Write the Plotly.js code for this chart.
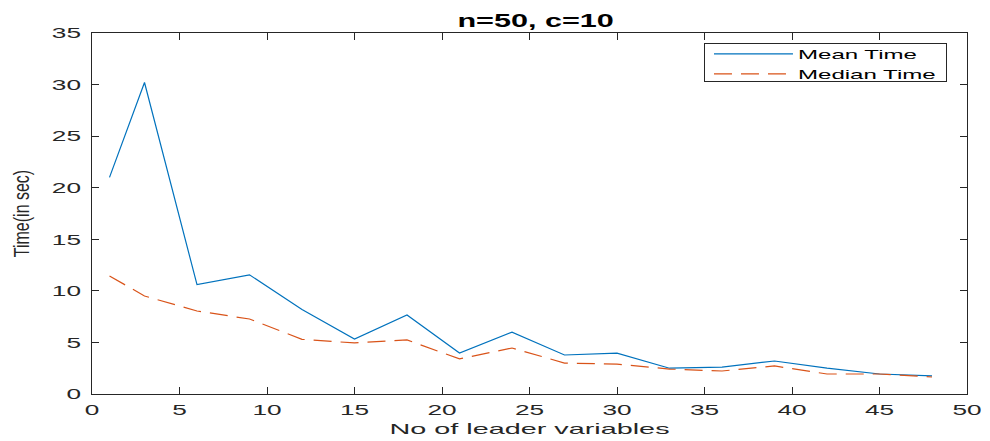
<!DOCTYPE html>
<html>
<head>
<meta charset="utf-8">
<script src="https://cdn.plot.ly/plotly-3.0.1.min.js"></script>
<style>html,body{margin:0;padding:0;background:#fff;}#chart{width:990px;height:441px;}</style>
</head>
<body>
<div id="chart"></div>
<script>
const leaderVars = [1, 3, 6, 9, 12, 15, 18, 21, 24, 27, 30, 33, 36, 39, 42, 45, 48];
const meanTime = [21.0, 30.2, 10.6, 11.55, 8.2, 5.33, 7.66, 3.97, 6.0, 3.78, 3.97, 2.5, 2.6, 3.2, 2.5, 1.94, 1.75];
const medianTime = [11.45, 9.5, 8.05, 7.27, 5.3, 4.95, 5.24, 3.4, 4.46, 3.0, 2.9, 2.42, 2.23, 2.72, 1.94, 1.94, 1.65];
const xTicks = [0, 5, 10, 15, 20, 25, 30, 35, 40, 45, 50];
const yTicks = [0, 5, 10, 15, 20, 25, 30, 35];
const seriesNames = ['Mean Time', 'Median Time'];

const font = 'Liberation Sans, Arial, sans-serif';
const STRETCH = 1.75;
// invisible trailing padding so the legend box is sized for the stretched text (removed after layout)
const PAD = '\u00A0'.repeat(20);
const traces = [
  {x: leaderVars, y: meanTime, name: seriesNames[0] + PAD, type: 'scatter', mode: 'lines',
   line: {color: '#0072BD', width: 1.2}},
  {x: leaderVars, y: medianTime, name: seriesNames[1] + PAD, type: 'scatter', mode: 'lines',
   line: {color: '#D95319', width: 1.2, dash: '18px,9px'}}
];
const axisCommon = {
  showgrid: false, zeroline: false, showline: true, linecolor: '#262626', linewidth: 1,
  mirror: 'ticks', ticks: 'inside', ticklen: 7, tickcolor: '#262626',
  tickfont: {family: font, size: 15, color: '#262626'}
};
const layout = {
  width: 990, height: 441,
  margin: {l: 92, r: 23, t: 33, b: 47},
  paper_bgcolor: '#fff', plot_bgcolor: '#fff',
  title: {text: '<b>n=50, c=10</b>', font: {family: font, size: 18, color: '#000'},
    xref: 'paper', x: 0.507, xanchor: 'center', yref: 'paper', y: 1, yanchor: 'bottom', pad: {b: 6}},
  xaxis: Object.assign({}, axisCommon, {range: [0, 50], tickvals: xTicks, ticktext: xTicks.map(String),
    ticklabelstandoff: 2,
    title: {text: 'No of leader variables', font: {family: font, size: 15, color: '#262626'}, standoff: 6}}),
  yaxis: Object.assign({}, axisCommon, {range: [0, 35], tickvals: yTicks, ticktext: yTicks.map(String),
    ticklabelstandoff: 7,
    title: {text: 'Time(in sec)', font: {family: font, size: 16, color: '#262626'}, standoff: 32}}),
  showlegend: true,
  legend: {x: 0.6994, xanchor: 'left', y: 0.9723, yanchor: 'top', bgcolor: '#fff',
    bordercolor: '#262626', borderwidth: 1, font: {family: font, size: 13, color: '#000'},
    tracegroupgap: 0, itemwidth: 79}
};

function stretchText(el, mode, s) {
  const bb = el.getBBox();
  let cx;
  if (mode === 'left') cx = bb.x;
  else if (mode === 'right') cx = bb.x + bb.width;
  else cx = bb.x + bb.width / 2;
  const prev = el.getAttribute('transform') || '';
  el.setAttribute('transform', prev + ' translate(' + cx + ',0) scale(' + s + ',1) translate(' + (-cx) + ',0)');
}
function stretchTextY(el, s) {
  const bb = el.getBBox();
  const cy = bb.y + bb.height / 2;
  const prev = el.getAttribute('transform') || '';
  el.setAttribute('transform', prev + ' translate(0,' + cy + ') scale(1,' + s + ') translate(0,' + (-cy) + ')');
}

Plotly.newPlot('chart', traces, layout, {displayModeBar: false, staticPlot: true}).then(function (gd) {
  gd.querySelectorAll('.xtick text').forEach(t => stretchText(t, 'center', STRETCH));
  gd.querySelectorAll('.ytick text').forEach(t => stretchText(t, 'right', STRETCH));
  gd.querySelectorAll('.gtitle').forEach(t => stretchText(t, 'center', 1.7));
  gd.querySelectorAll('.g-xtitle text').forEach(t => stretchText(t, 'center', 1.92));
  gd.querySelectorAll('.g-ytitle text').forEach(t => stretchTextY(t, 1.35));
  gd.querySelectorAll('.legend text.legendtext').forEach(t => {
    t.textContent = t.textContent.replace(/\u00A0+$/, '');
    stretchText(t, 'left', 1.85);
  });
  // tighten the legend to MATLAB's compact spacing
  gd.querySelectorAll('.legend .traces').forEach(g => {
    const prev = g.getAttribute('transform') || '';
    g.setAttribute('transform', 'translate(4,-5) ' + prev);
  });
  const bg = gd.querySelector('.legend rect.bg');
  if (bg) bg.setAttribute('height', 38);
});
</script>
</body>
</html>
